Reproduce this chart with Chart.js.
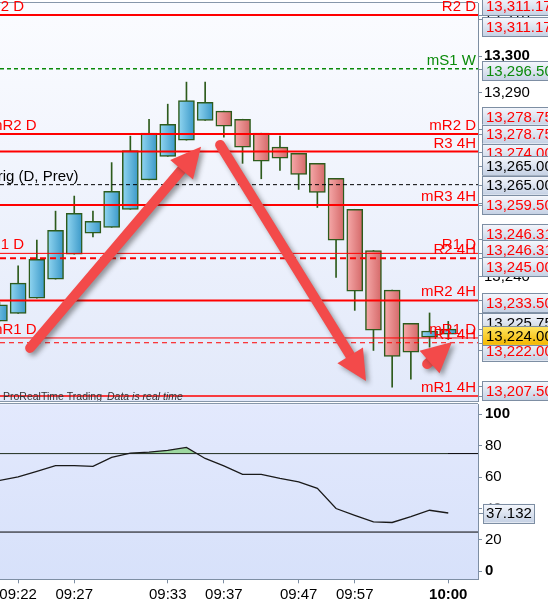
<!DOCTYPE html>
<html>
<head>
<meta charset="utf-8">
<script src="https://cdn.jsdelivr.net/npm/chart.js@4.4.1/dist/chart.umd.min.js"></script>
<style>
  html, body { margin: 0; padding: 0; background: #fff; overflow: hidden; }
  #wrap { position: relative; width: 548px; height: 599px; overflow: hidden; }
  #priceChart { position: absolute; left: 0; top: 0; }
  #rsiChart { position: absolute; left: 0; top: 402px; }
</style>
</head>
<body>
<div id="wrap">
  <canvas id="priceChart" width="548" height="402"></canvas>
  <canvas id="rsiChart" width="548" height="197"></canvas>
</div>
<script>
// candles (one per bar, left to right)
const opens  = [13227.9, 13230.0, 13234.1, 13239.3, 13246.1, 13251.8, 13253.4, 13258.3, 13266.3, 13272.7, 13277.1, 13282.5, 13285.0, 13282.8, 13279.0, 13275.2, 13273.5, 13270.8, 13266.7, 13258.3, 13247.1, 13236.3, 13227.3, 13223.5, 13224.3];
const highs  = [13233.0, 13242.9, 13249.9, 13257.8, 13261.9, 13257.8, 13271.0, 13278.2, 13282.8, 13286.9, 13292.9, 13292.9, 13285.0, 13282.8, 13279.0, 13278.2, 13273.5, 13270.8, 13266.7, 13258.3, 13247.1, 13236.3, 13227.3, 13230.1, 13227.8];
const lows   = [13227.9, 13230.0, 13234.1, 13239.3, 13246.1, 13250.8, 13253.4, 13258.3, 13266.3, 13272.7, 13277.1, 13282.5, 13277.9, 13270.8, 13266.6, 13268.9, 13263.7, 13258.8, 13239.8, 13230.8, 13219.9, 13209.9, 13212.1, 13220.8, 13222.9];
const closes = [13232.3, 13238.2, 13244.7, 13252.6, 13257.2, 13255.0, 13263.2, 13274.3, 13279.0, 13281.4, 13287.9, 13287.4, 13280.9, 13275.2, 13271.4, 13272.2, 13267.8, 13262.9, 13249.9, 13236.0, 13225.4, 13218.3, 13219.4, 13225.2, 13225.7];

// RSI, same bars
const rsiValues = [57.9, 60.2, 63.7, 67.3, 67.3, 66.8, 72.6, 75.3, 75.9, 77.1, 78.9, 71.9, 67.2, 61.7, 61.7, 59.2, 57.0, 52.8, 40.0, 35.7, 31.5, 31.1, 34.8, 38.9, 37.132];
const rsiUpper = 75;
const rsiLower = 25;

// time axis labels (bar index -> text)
const timeTickIdx  = [1, 4, 9, 12, 16, 19, 24];
const timeTickText = ['09:22', '09:27', '09:33', '09:37', '09:47', '09:57', '10:00'];

// pivot levels
const levelNames  = ['R2 D', 'mS1 W', 'mR2 D', 'R3 4H', 'Orig (D, Prev)', 'mR3 4H', 'R1 D', 'R2 4H', 'mR2 4H', 'mR1 D', 'R1 4H', 'mR1 4H'];
const levelValues = [13311.17, 13296.5, 13278.75, 13274.0, 13265.0, 13259.5, 13246.31, 13245.0, 13233.5, 13223.3, 13222.0, 13207.5];

// price tags on the right axis (drawn back to front)
const tagValues = [13311.17, 13311.17, 13296.5, 13278.75, 13278.75, 13274.0, 13265.0, 13265.0, 13259.5, 13246.31, 13246.31, 13245.0, 13233.5, 13225.75, 13222.0, 13207.5, 13224.0];

// hand drawn arrows: [barFrom, priceFrom, barTo, priceTo]
const arrows = [
  [1.64, 13220.6, 10.78, 13275.3],
  [11.80, 13275.8, 19.60, 13211.6],
  [22.87, 13216.2, 24.20, 13222.2]
];

// ---- styling / layout ----
const FONT = '"Liberation Sans", Arial, sans-serif';
const RED = '#ff0000';
const levelStyle = [
  { color: RED, width: 2, dash: [], right: true, left: -10 },
  { color: '#0a8a0a', width: 1.5, dash: [4, 3], right: true, left: null },
  { color: RED, width: 2, dash: [], right: true, left: -10 },
  { color: RED, width: 2, dash: [], right: true, left: null },
  { color: '#000', width: 1, dash: [4, 3], right: false, left: -14 },
  { color: RED, width: 2, dash: [], right: true, left: null },
  { color: RED, width: 1, dash: [], right: true, left: -10 },
  { color: RED, width: 2, dash: [6, 4], right: true, left: null },
  { color: RED, width: 2, dash: [], right: true, left: null },
  { color: RED, width: 1, dash: [], right: true, left: -10 },
  { color: RED, width: 1, dash: [5, 4], right: true, left: null },
  { color: RED, width: 1.5, dash: [], right: true, left: null }
];
const tagText  = ['red', 'red', 'green', 'red', 'red', 'red', 'black', 'black', 'red', 'red', 'red', 'red', 'red', 'black', 'red', 'red', 'black'];
const tagShift = [-9, 12, 2, -17.6, 0, 1.7, -19, 0.5, 0, -20, -3.4, 8.8, 2, -6.5, 8.3, -5.5, 0];
const tagYellow = tagValues.length - 1;

const xMin = 0.03, xMax = 25.59;
const fmt = v => v.toLocaleString('en-US', { minimumFractionDigits: 2, maximumFractionDigits: 2 });

Chart.defaults.font.family = FONT;
Chart.defaults.font.size = 15;
Chart.defaults.color = '#000';

// no extra room for the end tick labels
function noPad(s) {
  s.paddingTop = 0; s.paddingBottom = 0; s.paddingLeft = 0; s.paddingRight = 0;
}

function bodyFill(c) {
  const i = c.dataIndex;
  const up = closes[i] >= opens[i];
  const flat = up ? '#5ab4dc' : '#e88a8a';
  if (c.type !== 'data' || !c.chart.scales || !c.chart.scales.x || !c.raw) return flat;
  const px = c.chart.scales.x.getPixelForValue(c.raw.x);
  if (!Number.isFinite(px)) return flat;
  const g = c.chart.ctx.createLinearGradient(px - 8, 0, px + 8, 0);
  if (up) { g.addColorStop(0, '#92d6f1'); g.addColorStop(1, '#3a98c8'); }
  else { g.addColorStop(0, '#f6aaaa'); g.addColorStop(1, '#d46868'); }
  return g;
}

function panelBg(top, bottom) {
  return {
    id: 'panelBg',
    beforeDraw(chart) {
      const { ctx, chartArea: a } = chart;
      const g = ctx.createLinearGradient(0, a.top, 0, a.bottom);
      g.addColorStop(0, top);
      g.addColorStop(1, bottom);
      ctx.save();
      ctx.fillStyle = g;
      ctx.fillRect(a.left, a.top, a.right - a.left, a.bottom - a.top);
      ctx.strokeStyle = '#8797aa';
      ctx.lineWidth = 1;
      ctx.beginPath();
      ctx.moveTo(a.left, Math.round(a.top) - 0.5);
      ctx.lineTo(a.right, Math.round(a.top) - 0.5);
      ctx.stroke();
      ctx.restore();
    }
  };
}

function drawTag(ctx, x, cy, text, color, yellow) {
  const h = 19;
  const g = ctx.createLinearGradient(0, cy - h / 2, 0, cy + h / 2);
  if (yellow) { g.addColorStop(0, '#ffe766'); g.addColorStop(1, '#f4b700'); }
  else { g.addColorStop(0, '#f6f8fd'); g.addColorStop(1, '#c5d1e4'); }
  ctx.fillStyle = g;
  ctx.fillRect(x, cy - h / 2, 90, h);
  ctx.strokeStyle = '#7d8ea3';
  ctx.lineWidth = 1;
  ctx.strokeRect(Math.round(x) + 0.5, Math.round(cy - h / 2) + 0.5, 90, h);
  ctx.fillStyle = color;
  ctx.textAlign = 'left';
  ctx.textBaseline = 'middle';
  ctx.fillText(text, x + 4, cy + 1);
}

function drawArrow(ctx, x1, y1, x2, y2) {
  const ang = Math.atan2(y2 - y1, x2 - x1);
  const headLen = 30, half = 15;
  const bx = x2 - headLen * Math.cos(ang), by = y2 - headLen * Math.sin(ang);
  ctx.beginPath();
  ctx.moveTo(x1, y1);
  ctx.lineTo(bx + 2 * Math.cos(ang), by + 2 * Math.sin(ang));
  ctx.stroke();
  ctx.beginPath();
  ctx.moveTo(x2, y2);
  ctx.lineTo(bx + half * Math.sin(ang), by - half * Math.cos(ang));
  ctx.lineTo(bx - half * Math.sin(ang), by + half * Math.cos(ang));
  ctx.closePath();
  ctx.fill();
}

const priceOverlay = {
  id: 'priceOverlay',
  afterDatasetsDraw(chart) {
    const { ctx, chartArea: a, scales: { x, y } } = chart;
    ctx.save();
    ctx.beginPath();
    ctx.rect(a.left, 0, a.right - a.left, a.bottom + 1);
    ctx.clip();
    // level names
    ctx.font = '15px ' + FONT;
    ctx.textBaseline = 'alphabetic';
    levelValues.forEach((v, i) => {
      const py = y.getPixelForValue(v);
      const s = levelStyle[i];
      ctx.fillStyle = s.color;
      if (s.right) { ctx.textAlign = 'right'; ctx.fillText(levelNames[i], a.right - 2, py - 4); }
      if (s.left !== null) { ctx.textAlign = 'left'; ctx.fillText(levelNames[i], a.left + s.left, py - 4); }
    });
    // watermark
    ctx.fillStyle = '#333';
    ctx.textAlign = 'left';
    ctx.font = '10.5px ' + FONT;
    ctx.fillText('ProRealTime Trading', 3, 400);
    ctx.font = 'italic 10.5px ' + FONT;
    ctx.fillText('Data is real time', 107, 400);
    // arrows
    ctx.strokeStyle = '#f34a4a';
    ctx.fillStyle = '#f34a4a';
    ctx.lineWidth = 10;
    ctx.lineCap = 'round';
    ctx.shadowColor = 'rgba(40,40,40,0.45)';
    ctx.shadowBlur = 5;
    ctx.shadowOffsetX = 3;
    ctx.shadowOffsetY = 3;
    arrows.forEach(r => drawArrow(ctx, x.getPixelForValue(r[0]), y.getPixelForValue(r[1]),
      x.getPixelForValue(r[2]), y.getPixelForValue(r[3])));
    ctx.restore();
    // bottom frame
    ctx.save();
    ctx.strokeStyle = '#8797aa';
    ctx.beginPath();
    ctx.moveTo(a.left, Math.round(a.bottom) + 0.5);
    ctx.lineTo(a.right, Math.round(a.bottom) + 0.5);
    ctx.stroke();
    ctx.restore();
  },
  afterDraw(chart) {
    const { ctx, chartArea: a, scales: { y } } = chart;
    const colors = { red: RED, green: '#0a8a0a', black: '#000' };
    ctx.save();
    ctx.font = '15px ' + FONT;
    tagValues.forEach((v, i) => {
      const py = y.getPixelForValue(v);
      ctx.strokeStyle = '#7d8ea3';
      ctx.beginPath();
      ctx.moveTo(a.right, Math.round(py) + 0.5);
      ctx.lineTo(a.right + 4, Math.round(py) + 0.5);
      ctx.stroke();
      drawTag(ctx, a.right + 4, py + tagShift[i], fmt(v), colors[tagText[i]], i === tagYellow);
    });
    ctx.restore();
  }
};

const levelSets = levelValues.map((v, i) => ({
  type: 'line',
  data: [{ x: xMin, y: v }, { x: xMax, y: v }],
  borderColor: levelStyle[i].color,
  borderWidth: levelStyle[i].width,
  borderDash: levelStyle[i].dash,
  pointRadius: 0,
  order: 0
}));

new Chart(document.getElementById('priceChart'), {
  type: 'bar',
  data: {
    datasets: [
      {
        data: opens.map((o, i) => ({ x: i, y: [lows[i], highs[i]] })),
        backgroundColor: '#2d5b1c',
        barThickness: 1,
        grouped: false,
        order: 3
      },
      {
        data: opens.map((o, i) => ({ x: i, y: [o, closes[i]] })),
        backgroundColor: bodyFill,
        borderColor: '#2d5b1c',
        borderWidth: 1.5,
        borderSkipped: false,
        barThickness: 16,
        grouped: false,
        order: 2
      },
      ...levelSets
    ]
  },
  options: {
    responsive: false,
    animation: false,
    devicePixelRatio: 1,
    layout: { autoPadding: false, padding: { top: 3, bottom: 1, left: 0, right: 0 } },
    plugins: { legend: { display: false }, tooltip: { enabled: false } },
    scales: {
      x: { type: 'linear', display: false, min: xMin, max: xMax, offset: false },
      y: {
        position: 'right',
        min: 13206.15,
        max: 13314.42,
        afterFit: s => { s.width = 70; noPad(s); },
        afterBuildTicks: s => {
          const t = [];
          for (let v = 13210; v <= 13310; v += 10) t.push({ value: v });
          s.ticks = t;
        },
        grid: { drawOnChartArea: false, tickLength: 4, color: '#7d8ea3' },
        border: { color: '#7d8ea3' },
        ticks: {
          padding: 2,
          color: '#000',
          callback: v => v.toLocaleString('en-US'),
          font: c => ({ family: FONT, size: 15, weight: c.tick && c.tick.value === 13300 ? 'bold' : 'normal' })
        }
      }
    }
  },
  plugins: [panelBg('#fbfcff', '#e2e9fa'), priceOverlay]
});

const rsiOverlay = {
  id: 'rsiOverlay',
  afterDraw(chart) {
    const { ctx, chartArea: a, scales: { y } } = chart;
    ctx.save();
    ctx.font = '15px ' + FONT;
    const last = rsiValues[rsiValues.length - 1];
    const py = y.getPixelForValue(last);
    ctx.strokeStyle = '#7d8ea3';
    ctx.beginPath();
    ctx.moveTo(a.right, Math.round(py) + 0.5);
    ctx.lineTo(a.right + 5, Math.round(py) + 0.5);
    ctx.stroke();
    const h = 19;
    const g = ctx.createLinearGradient(0, py - h / 2, 0, py + h / 2);
    g.addColorStop(0, '#f6f8fd');
    g.addColorStop(1, '#c5d1e4');
    ctx.fillStyle = g;
    ctx.fillRect(a.right + 5, py - h / 2, 51, h);
    ctx.strokeRect(Math.round(a.right + 5) + 0.5, Math.round(py - h / 2) + 0.5, 51, h);
    ctx.fillStyle = '#000';
    ctx.textBaseline = 'middle';
    ctx.fillText(String(last), a.right + 8, py + 1);
    ctx.restore();
  }
};

new Chart(document.getElementById('rsiChart'), {
  type: 'line',
  data: {
    datasets: [
      {
        data: rsiValues.map((v, i) => ({ x: i, y: v })),
        borderColor: '#1a1a1a',
        borderWidth: 1.3,
        pointRadius: 0,
        tension: 0,
        fill: { target: { value: rsiUpper }, above: 'rgba(150,214,150,0.9)', below: 'rgba(0,0,0,0)' }
      },
      {
        data: [{ x: xMin, y: rsiUpper }, { x: xMax, y: rsiUpper }],
        borderColor: '#000', borderWidth: 1, pointRadius: 0
      },
      {
        data: [{ x: xMin, y: rsiLower }, { x: xMax, y: rsiLower }],
        borderColor: '#000', borderWidth: 1, pointRadius: 0
      }
    ]
  },
  options: {
    responsive: false,
    animation: false,
    devicePixelRatio: 1,
    layout: { autoPadding: false, padding: { top: 2.3, bottom: 0, left: 0, right: 0 } },
    plugins: { legend: { display: false }, tooltip: { enabled: false } },
    scales: {
      x: {
        type: 'linear',
        min: xMin,
        max: xMax,
        afterFit: s => { s.height = 19.7; noPad(s); },
        afterBuildTicks: s => { s.ticks = timeTickIdx.map(v => ({ value: v })); },
        grid: { drawOnChartArea: false, tickLength: 4, color: '#7d8ea3' },
        border: { color: '#7d8ea3' },
        ticks: {
          padding: 3,
          maxRotation: 0,
          autoSkip: false,
          color: '#000',
          callback: v => timeTickText[timeTickIdx.indexOf(v)],
          font: c => ({ family: FONT, size: 15, weight: c.tick && c.tick.value === 24 ? 'bold' : 'normal' })
        }
      },
      y: {
        position: 'right',
        min: -5.1,
        max: 106.4,
        afterFit: s => { s.width = 70; noPad(s); },
        afterBuildTicks: s => {
          const t = [];
          for (let v = 0; v <= 100; v += 10) t.push({ value: v });
          s.ticks = t;
        },
        grid: { drawOnChartArea: false, tickLength: 4, color: '#7d8ea3' },
        border: { color: '#7d8ea3' },
        ticks: {
          padding: 3,
          color: '#000',
          callback: v => (v % 20 === 0 ? v : ''),
          font: c => ({ family: FONT, size: 15, weight: c.tick && (c.tick.value === 0 || c.tick.value === 100) ? 'bold' : 'normal' })
        }
      }
    }
  },
  plugins: [panelBg('#e3e9fd', '#d7e1fa'), rsiOverlay]
});
</script>
</body>
</html>
